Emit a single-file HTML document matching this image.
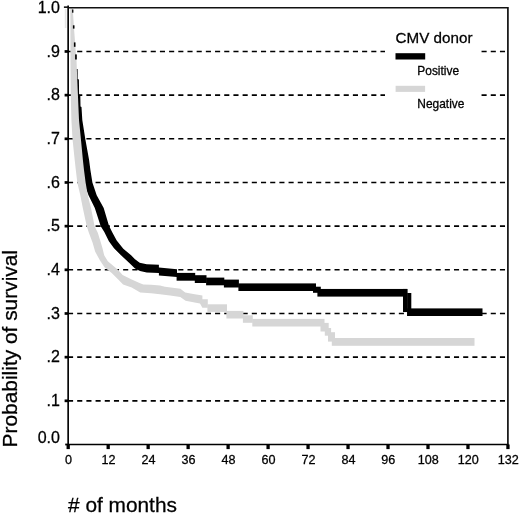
<!DOCTYPE html>
<html lang="en"><head><meta charset="utf-8"><title>Probability of survival by CMV donor status</title>
<style>html,body{margin:0;padding:0;background:#fff}body{width:520px;height:514px;overflow:hidden}svg{display:block;will-change:transform}text{font-family:"Liberation Sans", Arial, Helvetica, sans-serif;fill:#000;stroke:#000;stroke-width:0.28px}</style></head><body>
<svg width="520" height="514" viewBox="0 0 520 514">
<rect width="520" height="514" fill="#fff"/>
<g stroke="#000" stroke-width="1.6" stroke-dasharray="5.1 4.09" fill="none">
<line x1="68.0" y1="400.83" x2="506" y2="400.83"/>
<line x1="68.0" y1="357.16" x2="506" y2="357.16"/>
<line x1="68.0" y1="313.49" x2="506" y2="313.49"/>
<line x1="68.0" y1="269.82" x2="506" y2="269.82"/>
<line x1="68.0" y1="226.15" x2="506" y2="226.15"/>
<line x1="68.0" y1="182.48" x2="506" y2="182.48"/>
<line x1="68.0" y1="138.81" x2="506" y2="138.81"/>
<line x1="68.0" y1="95.14" x2="506" y2="95.14"/>
<line x1="68.0" y1="51.47" x2="506" y2="51.47"/>
</g>
<rect x="385" y="20" width="96" height="96" fill="#fff"/>
<clipPath id="pc"><rect x="70.2" y="8.6" width="438" height="436"/></clipPath>
<g clip-path="url(#pc)">
<g fill="#000">
<polygon points="77.6,69.0 77.7,79.0 78.9,79.5 79.1,94.5 80.3,95.0 80.5,106.5 81.5,107.0 82.3,120.0 85.3,139.0 89.1,160.0 90.4,170.0 92.4,182.6 96.7,195.3 103.7,208.0 108.9,225.5 112.1,232.0 116.7,240.6 123.3,248.7 131.1,255.3 135.0,259.3 139.7,262.8 146.7,264.3 158.9,264.7 158.9,267.5 177.0,269.2 177.0,277.0 158.9,275.5 158.9,272.9 146.7,272.5 140.0,271.1 135.0,268.4 128.8,262.6 121.0,255.3 114.0,248.3 108.9,241.3 104.3,232.0 100.7,226.3 94.8,208.0 88.5,195.3 83.5,182.6 77.0,170.0 72.0,120.0 72.0,69.0"/>
<rect x="176.6" y="272.9" width="18.6" height="7.80"/>
<rect x="194.8" y="275.2" width="11.7" height="7.80"/>
<rect x="206.1" y="277.6" width="18.2" height="7.70"/>
<rect x="223.9" y="279.6" width="15.0" height="7.90"/>
<rect x="238.4" y="283.4" width="77.6" height="7.60"/>
<rect x="313.0" y="286.7" width="7.8" height="6.10"/>
<rect x="317.4" y="288.95" width="89.6" height="7.65"/>
<rect x="403" y="288.95" width="4.6" height="23.1"/>
<rect x="407.2" y="293" width="4.1" height="23"/>
<rect x="407.2" y="308.4" width="75.3" height="7.6"/>
</g>
<g fill="#d6d6d6">
<polygon points="72.7,8.0 74.0,28.0 75.7,51.0 76.5,60.0 77.7,90.0 79.0,120.0 80.9,139.0 82.9,160.0 84.0,170.0 85.6,182.6 87.8,195.3 91.0,208.0 94.6,226.3 97.8,232.8 100.2,240.6 102.5,248.3 104.2,255.3 107.8,261.2 112.9,265.4 117.9,269.8 122.6,275.0 131.7,279.4 139.5,282.9 143.3,284.5 151.1,284.8 160.0,285.6 165.0,286.8 180.5,288.8 182.0,290.0 185.2,292.6 193.3,293.9 202.4,295.5 202.4,299.2 207.8,299.2 207.8,307.8 202.4,307.8 200.0,303.6 193.3,302.2 185.6,300.7 180.3,296.9 170.0,295.6 160.0,294.2 151.1,293.2 140.2,292.5 131.7,287.6 123.1,284.5 118.7,279.9 111.7,272.9 104.7,267.5 100.0,260.4 95.1,251.6 92.6,242.7 88.8,232.6 86.7,226.0 82.8,208.0 80.3,195.3 77.3,182.6 75.8,170.0 74.7,160.0 72.5,139.0 71.4,120.0 70.6,90.0 70.3,60.0 70.2,8.0"/>
<rect x="207.4" y="304.3" width="19.6" height="7.60"/>
<rect x="226.4" y="310.9" width="17.0" height="7.60"/>
<rect x="242.9" y="315.3" width="9.9" height="7.50"/>
<rect x="252.3" y="318.9" width="72.2" height="7.60"/>
<rect x="320.5" y="322.9" width="8.2" height="8.60"/>
<rect x="324.8" y="328.0" width="6.3" height="7.70"/>
<rect x="328.0" y="332.2" width="7.0" height="9.40"/>
<rect x="331.8" y="338.0" width="142.7" height="7.80"/>
</g>
<rect x="72.1" y="9.5" width="1.3" height="3.2" fill="#000"/>
<rect x="72.9" y="25.3" width="1.6" height="3.3" fill="#000"/>
<rect x="73.9" y="42.4" width="1.6" height="4.4" fill="#000"/>
<rect x="75.1" y="54.4" width="1.7" height="5.1" fill="#000"/>
</g>
<rect x="64.8" y="9" width="1.6" height="19" fill="#e6e6e6"/>
<line x1="68.15" y1="5.6" x2="68.15" y2="445.3" stroke="#000" stroke-width="1.65"/>
<line x1="68.15" y1="444.5" x2="508.79999999999995" y2="444.5" stroke="#000" stroke-width="1.6"/>
<line x1="68.15" y1="7.8" x2="507.9" y2="7.8" stroke="#111" stroke-width="1.6"/>
<line x1="507.9" y1="7.1" x2="507.9" y2="444.5" stroke="#111" stroke-width="1.7"/>
<rect x="65.2" y="443.6" width="3" height="1.8" fill="#000"/>
<text x="59.9" y="442.60" font-size="16" text-anchor="end">0.0</text>
<rect x="64.6" y="399.48" width="3.4" height="2.7" fill="#000"/>
<text x="59.9" y="406.13" font-size="16" text-anchor="end">.1</text>
<rect x="64.6" y="355.81" width="3.4" height="2.7" fill="#000"/>
<text x="59.9" y="362.46" font-size="16" text-anchor="end">.2</text>
<rect x="64.6" y="312.14" width="3.4" height="2.7" fill="#000"/>
<text x="59.9" y="318.79" font-size="16" text-anchor="end">.3</text>
<rect x="64.6" y="268.47" width="3.4" height="2.7" fill="#000"/>
<text x="59.9" y="275.12" font-size="16" text-anchor="end">.4</text>
<rect x="64.6" y="224.80" width="3.4" height="2.7" fill="#000"/>
<text x="59.9" y="231.45" font-size="16" text-anchor="end">.5</text>
<rect x="64.6" y="181.13" width="3.4" height="2.7" fill="#000"/>
<text x="59.9" y="187.78" font-size="16" text-anchor="end">.6</text>
<rect x="64.6" y="137.46" width="3.4" height="2.7" fill="#000"/>
<text x="59.9" y="144.11" font-size="16" text-anchor="end">.7</text>
<rect x="64.6" y="93.79" width="3.4" height="2.7" fill="#000"/>
<text x="59.9" y="100.44" font-size="16" text-anchor="end">.8</text>
<rect x="64.6" y="50.12" width="3.4" height="2.7" fill="#000"/>
<text x="59.9" y="56.77" font-size="16" text-anchor="end">.9</text>
<rect x="63.9" y="6.40" width="4" height="1.5" fill="#000"/>
<text x="59.9" y="12.60" font-size="16" text-anchor="end">1.0</text>
<rect x="66.55" y="444.5" width="3.3" height="4.6" fill="#000"/>
<text x="68.55" y="463.7" font-size="12.6" text-anchor="middle">0</text>
<rect x="106.53" y="444.5" width="3.3" height="4.6" fill="#000"/>
<text x="108.53" y="463.7" font-size="12.6" text-anchor="middle">12</text>
<rect x="146.50" y="444.5" width="3.3" height="4.6" fill="#000"/>
<text x="148.50" y="463.7" font-size="12.6" text-anchor="middle">24</text>
<rect x="186.48" y="444.5" width="3.3" height="4.6" fill="#000"/>
<text x="188.48" y="463.7" font-size="12.6" text-anchor="middle">36</text>
<rect x="226.46" y="444.5" width="3.3" height="4.6" fill="#000"/>
<text x="228.46" y="463.7" font-size="12.6" text-anchor="middle">48</text>
<rect x="266.44" y="444.5" width="3.3" height="4.6" fill="#000"/>
<text x="268.44" y="463.7" font-size="12.6" text-anchor="middle">60</text>
<rect x="306.41" y="444.5" width="3.3" height="4.6" fill="#000"/>
<text x="308.41" y="463.7" font-size="12.6" text-anchor="middle">72</text>
<rect x="346.39" y="444.5" width="3.3" height="4.6" fill="#000"/>
<text x="348.39" y="463.7" font-size="12.6" text-anchor="middle">84</text>
<rect x="386.37" y="444.5" width="3.3" height="4.6" fill="#000"/>
<text x="388.37" y="463.7" font-size="12.6" text-anchor="middle">96</text>
<rect x="426.35" y="444.5" width="3.3" height="4.6" fill="#000"/>
<text x="428.35" y="463.7" font-size="12.6" text-anchor="middle">108</text>
<rect x="466.32" y="444.5" width="3.3" height="4.6" fill="#000"/>
<text x="468.32" y="463.7" font-size="12.6" text-anchor="middle">120</text>
<rect x="506.30" y="444.5" width="3.3" height="4.6" fill="#000"/>
<text x="508.30" y="463.7" font-size="12.6" text-anchor="middle">132</text>
<text x="68" y="512" font-size="20.85"># of months</text>
<text transform="translate(17.1,447.4) rotate(-90)" font-size="20.9">Probability of survival</text>
<text x="395.6" y="42.9" font-size="15.5" textLength="76.9" lengthAdjust="spacingAndGlyphs">CMV donor</text>
<rect x="395.5" y="53.2" width="29.7" height="6.3" fill="#000"/>
<text x="417.3" y="74.7" font-size="11.95">Positive</text>
<rect x="395.6" y="85.8" width="29.5" height="6.1" fill="#d6d6d6"/>
<text x="417.3" y="107.6" font-size="11.95">Negative</text>
</svg></body></html>
